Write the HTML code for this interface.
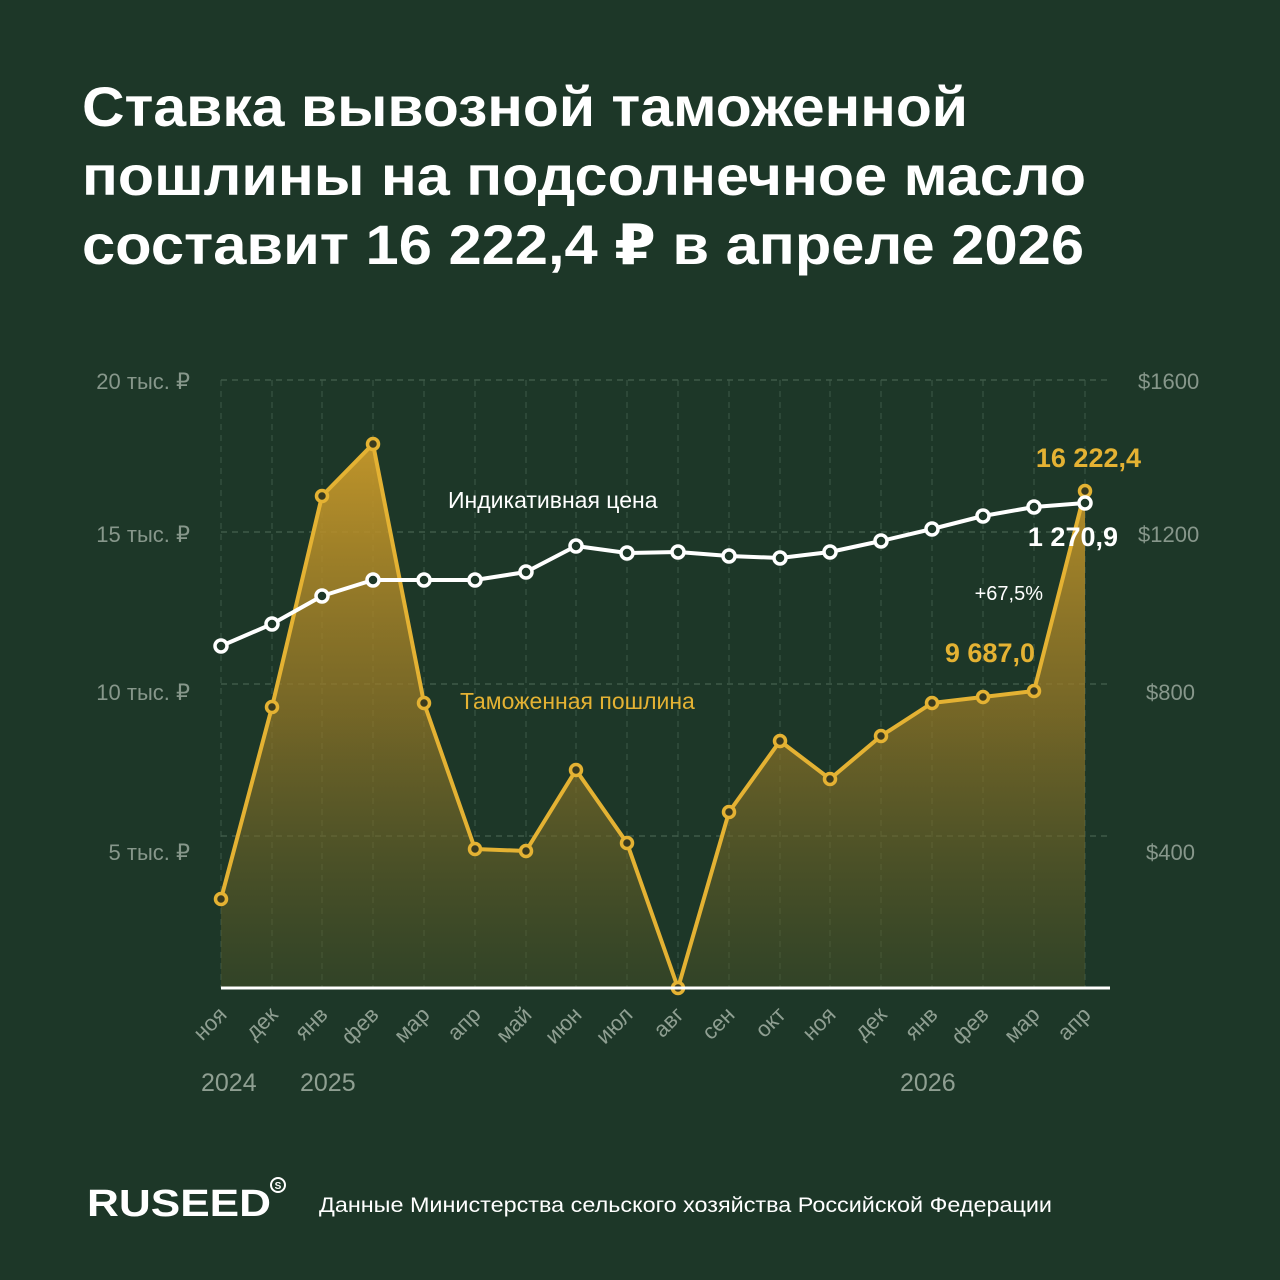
<!DOCTYPE html>
<html><head><meta charset="utf-8"><style>
html,body{margin:0;padding:0;background:#1d3728;}
svg{display:block}
</style></head><body>
<svg width="1280" height="1280" viewBox="0 0 1280 1280" xmlns="http://www.w3.org/2000/svg" font-family="Liberation Sans, DejaVu Sans, sans-serif">
<defs>
<linearGradient id="fill" gradientUnits="userSpaceOnUse" x1="0" y1="440" x2="0" y2="988">
<stop offset="0" stop-color="#c99a2a" stop-opacity="0.95"/>
<stop offset="0.5" stop-color="#9a7a26" stop-opacity="0.7"/>
<stop offset="1" stop-color="#4a5226" stop-opacity="0.45"/>
</linearGradient>
</defs>
<rect width="1280" height="1280" fill="#1d3728"/>
<g fill="#ffffff" font-weight="bold" font-size="56">
<text x="82" y="126" textLength="886" lengthAdjust="spacingAndGlyphs">Ставка вывозной таможенной</text>
<text x="82" y="195" textLength="1004" lengthAdjust="spacingAndGlyphs">пошлины на подсолнечное масло</text>
<text x="82" y="264" textLength="1002" lengthAdjust="spacingAndGlyphs">составит 16 222,4 ₽ в апреле 2026</text>
</g>
<g stroke="#4f6b58" stroke-width="1" stroke-dasharray="6 5" fill="none">
<line x1="221" y1="380" x2="1110" y2="380"/>
<line x1="221" y1="532" x2="1110" y2="532"/>
<line x1="221" y1="684" x2="1110" y2="684"/>
<line x1="221" y1="836" x2="1110" y2="836"/>
<g stroke="#3d5a47">
<line x1="221" y1="380" x2="221" y2="988"/><line x1="272" y1="380" x2="272" y2="988"/><line x1="322" y1="380" x2="322" y2="988"/><line x1="373" y1="380" x2="373" y2="988"/><line x1="424" y1="380" x2="424" y2="988"/><line x1="475" y1="380" x2="475" y2="988"/><line x1="526" y1="380" x2="526" y2="988"/><line x1="576" y1="380" x2="576" y2="988"/><line x1="627" y1="380" x2="627" y2="988"/><line x1="678" y1="380" x2="678" y2="988"/><line x1="729" y1="380" x2="729" y2="988"/><line x1="780" y1="380" x2="780" y2="988"/><line x1="830" y1="380" x2="830" y2="988"/><line x1="881" y1="380" x2="881" y2="988"/><line x1="932" y1="380" x2="932" y2="988"/><line x1="983" y1="380" x2="983" y2="988"/><line x1="1034" y1="380" x2="1034" y2="988"/><line x1="1085" y1="380" x2="1085" y2="988"/>
</g>
</g>
<g fill="#87978b" font-size="22">
<text x="190" y="389" text-anchor="end">20 тыс. ₽</text>
<text x="190" y="542" text-anchor="end">15 тыс. ₽</text>
<text x="190" y="700" text-anchor="end">10 тыс. ₽</text>
<text x="190" y="860" text-anchor="end">5 тыс. ₽</text>
<text x="1138" y="389">$1600</text>
<text x="1138" y="542">$1200</text>
<text x="1146" y="700">$800</text>
<text x="1146" y="860">$400</text>
</g>
<path d="M221,899 L272,707 L322,496 L373,444 L424,703 L475,849 L526,851 L576,770 L627,843 L678,988 L729,812 L780,741 L830,779 L881,736 L932,703 L983,697 L1034,691 L1085,491 L1085,988 L221,988 Z" fill="url(#fill)"/>
<polyline points="221,899 272,707 322,496 373,444 424,703 475,849 526,851 576,770 627,843 678,988 729,812 780,741 830,779 881,736 932,703 983,697 1034,691 1085,491" fill="none" stroke="#e4b233" stroke-width="4" stroke-linejoin="round"/>
<g fill="#3a3a1e" stroke="#e4b233" stroke-width="3.5">
<circle cx="221" cy="899" r="5.5"/><circle cx="272" cy="707" r="5.5"/><circle cx="322" cy="496" r="5.5"/><circle cx="373" cy="444" r="5.5"/><circle cx="424" cy="703" r="5.5"/><circle cx="475" cy="849" r="5.5"/><circle cx="526" cy="851" r="5.5"/><circle cx="576" cy="770" r="5.5"/><circle cx="627" cy="843" r="5.5"/><circle cx="678" cy="988" r="5.5"/><circle cx="729" cy="812" r="5.5"/><circle cx="780" cy="741" r="5.5"/><circle cx="830" cy="779" r="5.5"/><circle cx="881" cy="736" r="5.5"/><circle cx="932" cy="703" r="5.5"/><circle cx="983" cy="697" r="5.5"/><circle cx="1034" cy="691" r="5.5"/><circle cx="1085" cy="491" r="5.5"/>
</g>
<line x1="221" y1="988" x2="1110" y2="988" stroke="#ffffff" stroke-width="3"/>
<polyline points="221,646 272,624 322,596 373,580 424,580 475,580 526,572 576,546 627,553 678,552 729,556 780,558 830,552 881,541 932,529 983,516 1034,507 1085,503" fill="none" stroke="#ffffff" stroke-width="4" stroke-linejoin="round"/>
<g fill="#1d3728" stroke="#ffffff" stroke-width="3.5">
<circle cx="221" cy="646" r="6"/><circle cx="272" cy="624" r="6"/><circle cx="322" cy="596" r="6"/><circle cx="373" cy="580" r="6"/><circle cx="424" cy="580" r="6"/><circle cx="475" cy="580" r="6"/><circle cx="526" cy="572" r="6"/><circle cx="576" cy="546" r="6"/><circle cx="627" cy="553" r="6"/><circle cx="678" cy="552" r="6"/><circle cx="729" cy="556" r="6"/><circle cx="780" cy="558" r="6"/><circle cx="830" cy="552" r="6"/><circle cx="881" cy="541" r="6"/><circle cx="932" cy="529" r="6"/><circle cx="983" cy="516" r="6"/><circle cx="1034" cy="507" r="6"/><circle cx="1085" cy="503" r="6"/>
</g>
<text x="448" y="508" fill="#ffffff" font-size="23">Индикативная цена</text>
<text x="460" y="709" fill="#e4b233" font-size="23">Таможенная пошлина</text>
<text x="1141" y="467" fill="#e4b233" font-size="27" font-weight="bold" text-anchor="end">16 222,4</text>
<text x="1118" y="546" fill="#ffffff" font-size="27" font-weight="bold" text-anchor="end">1 270,9</text>
<text x="1043" y="600" fill="#ffffff" font-size="20" text-anchor="end">+67,5%</text>
<text x="1035" y="662" fill="#e4b233" font-size="27" font-weight="bold" text-anchor="end">9 687,0</text>
<g fill="#8f9f92" font-size="22">
<text transform="translate(228,1016) rotate(-45)" text-anchor="end">ноя</text>
<text transform="translate(279,1016) rotate(-45)" text-anchor="end">дек</text>
<text transform="translate(329,1016) rotate(-45)" text-anchor="end">янв</text>
<text transform="translate(380,1016) rotate(-45)" text-anchor="end">фев</text>
<text transform="translate(431,1016) rotate(-45)" text-anchor="end">мар</text>
<text transform="translate(482,1016) rotate(-45)" text-anchor="end">апр</text>
<text transform="translate(533,1016) rotate(-45)" text-anchor="end">май</text>
<text transform="translate(583,1016) rotate(-45)" text-anchor="end">июн</text>
<text transform="translate(634,1016) rotate(-45)" text-anchor="end">июл</text>
<text transform="translate(685,1016) rotate(-45)" text-anchor="end">авг</text>
<text transform="translate(736,1016) rotate(-45)" text-anchor="end">сен</text>
<text transform="translate(787,1016) rotate(-45)" text-anchor="end">окт</text>
<text transform="translate(837,1016) rotate(-45)" text-anchor="end">ноя</text>
<text transform="translate(888,1016) rotate(-45)" text-anchor="end">дек</text>
<text transform="translate(939,1016) rotate(-45)" text-anchor="end">янв</text>
<text transform="translate(990,1016) rotate(-45)" text-anchor="end">фев</text>
<text transform="translate(1041,1016) rotate(-45)" text-anchor="end">мар</text>
<text transform="translate(1092,1016) rotate(-45)" text-anchor="end">апр</text>
<text x="201" y="1091" font-size="25">2024</text>
<text x="300" y="1091" font-size="25">2025</text>
<text x="900" y="1091" font-size="25">2026</text>
</g>
<text x="87" y="1216" fill="#ffffff" font-size="38" font-weight="bold" textLength="184" lengthAdjust="spacingAndGlyphs">RUSEED</text>
<circle cx="278" cy="1185" r="7" fill="none" stroke="#ffffff" stroke-width="2"/>
<text x="278" y="1189" fill="#ffffff" font-size="10" font-weight="bold" text-anchor="middle">S</text>
<text x="319" y="1212" fill="#ffffff" font-size="21" textLength="733" lengthAdjust="spacingAndGlyphs">Данные Министерства сельского хозяйства Российской Федерации</text>
</svg>
</body></html>
